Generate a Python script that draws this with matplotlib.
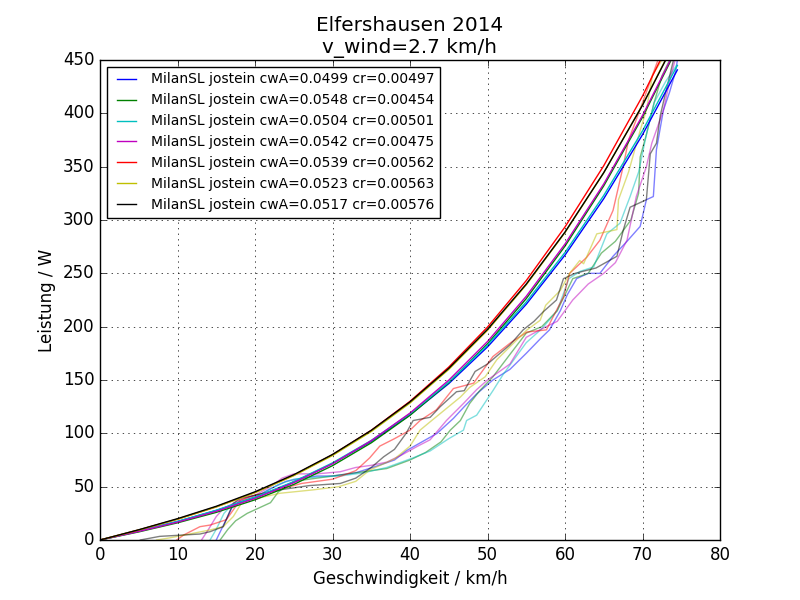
import matplotlib
matplotlib.use('Agg')
import matplotlib.pyplot as plt

plt.style.use('classic')

# fitted power curves, speed in km/h
v_fit = [0, 5, 10, 15, 20, 25, 30, 35, 40, 45, 50, 55, 60, 65, 70, 74.5]
p_fit_b = [0, 8.3, 17.3, 27.7, 39.8, 54.3, 71.7, 92.5, 117.3, 146.6, 181.0, 221.0, 267.1, 320.0, 380.0, 440.7]
p_fit_g = [0, 7.6, 16.1, 25.9, 37.7, 52.1, 69.7, 91.1, 116.9, 147.6, 183.9, 226.3, 275.5, 332.0, 396.4, 461.7]
p_fit_c = [0, 8.4, 17.5, 27.9, 40.1, 54.7, 72.3, 93.3, 118.4, 148.0, 182.7, 223.1, 269.6, 323.0, 383.6, 444.9]
p_fit_m = [0, 8.0, 16.7, 26.9, 39.0, 53.7, 71.5, 93.1, 119.0, 149.8, 186.1, 228.5, 277.5, 333.8, 398.0, 462.9]
p_fit_r = [0, 9.4, 19.5, 31.1, 44.6, 60.7, 79.9, 102.8, 130.0, 162.1, 199.6, 243.2, 293.5, 350.9, 416.2, 482.1]
p_fit_y = [0, 9.4, 19.5, 31.0, 44.4, 60.3, 79.2, 101.7, 128.4, 159.9, 196.6, 239.2, 288.2, 344.3, 407.9, 472.1]
p_fit_k = [0, 9.6, 20.0, 31.6, 45.2, 61.2, 80.2, 102.8, 129.5, 160.9, 197.5, 239.9, 288.7, 344.4, 407.6, 471.4]

labels = ['MilanSL jostein cwA=0.0499 cr=0.00497',
          'MilanSL jostein cwA=0.0548 cr=0.00454',
          'MilanSL jostein cwA=0.0504 cr=0.00501',
          'MilanSL jostein cwA=0.0542 cr=0.00475',
          'MilanSL jostein cwA=0.0539 cr=0.00562',
          'MilanSL jostein cwA=0.0523 cr=0.00563',
          'MilanSL jostein cwA=0.0517 cr=0.00576']

# measured rides
v_meas_b = [15, 16, 17, 18, 20, 22, 24, 26, 28, 30, 33, 36, 38, 39.6, 41.3, 43.5, 45.6, 47, 48.6, 50.7, 52.9,
            55, 57, 58, 59.4, 60.3, 61.5, 63, 64.5, 66.2, 68, 69.7, 70.5, 71.4, 71.8, 72.7, 73.5, 74.3, 74.5]
p_meas_b = [0, 15, 30, 36, 40, 48, 55, 58, 60, 60, 63, 70, 75, 84, 91, 100, 114, 125, 137, 150, 160,
            175, 190, 197, 215, 230, 245, 250, 250, 266, 280, 294, 319, 322, 366, 403, 420, 440, 450]
v_meas_g = [15.5, 16.5, 17.5, 19, 20.5, 22, 23, 25, 28, 31, 34, 37, 40, 42, 44, 45.2, 46.5, 47.7, 49, 50.7,
            53, 55, 57, 59, 61, 63, 64.7, 66.5, 68.5, 69.5, 69.7, 70.5, 71.5, 72.5, 73.5]
p_meas_g = [0, 10, 18, 25, 30, 35, 45, 55, 58, 61, 64, 67, 75, 82, 92, 103, 112, 128, 140, 153,
            175, 194, 200, 215, 245, 250, 269, 280, 300, 325, 359, 380, 410, 435, 450]
v_meas_c = [14.2, 15, 16, 17, 19, 21, 23, 25, 28, 31, 34, 37, 40.4, 42.6, 45, 46.9, 47.3, 48.6, 50.7, 52,
            53.5, 55, 57, 59, 60.5, 62, 63.7, 65.4, 67.1, 68.4, 69.5, 70.5, 71.5, 73, 74.4]
p_meas_c = [0, 10, 25, 33, 38, 44, 52, 57, 59, 60, 63, 68, 77, 83.5, 95, 103, 112, 117, 140, 155,
            170, 185, 198, 215, 245, 252, 256, 287, 297, 322, 345, 380, 410, 430, 445]
v_meas_m = [13.1, 14, 15, 16, 18, 20, 22, 23.5, 25, 28, 31, 33, 35, 37, 39, 41, 42.6, 44.7, 46.9, 48.6,
            50, 52.9, 55, 57, 59, 61, 63, 65, 66.5, 68, 69.2, 70.5, 71.2, 72.7, 73.5, 74.2]
p_meas_m = [0, 10, 22, 30, 37, 42, 50, 58, 62, 62, 64, 68, 70, 73, 80, 88, 94, 112, 128, 141,
            150, 165, 190, 198, 205, 225, 240, 250, 260, 281, 322, 350, 372, 403, 430, 450]
v_meas_r = [9.9, 10.8, 12.9, 14.2, 16.3, 18.1, 20, 23, 26, 30, 33, 34.8, 36.1, 38, 40, 41.3, 43.4, 45.6,
            48.2, 50.7, 53, 55.1, 57.6, 59.8, 60.6, 62.8, 64.5, 66.2, 67.5, 68.2, 69.5, 71, 72]
p_meas_r = [0, 4.7, 12.5, 14, 19, 37.5, 42, 47, 53, 57, 65, 77, 88, 95, 103, 112, 122, 142,
            147, 172, 185, 195, 197, 228, 250, 265, 281, 309, 350, 375, 400, 430, 450]
v_meas_y = [7.3, 9, 14.2, 15.9, 17.2, 18.5, 20.3, 23.2, 27.5, 30.8, 33, 34.8, 38, 40, 41.3, 42.8, 46.5,
            47.7, 49.7, 51.2, 55.1, 56.8, 57.5, 59.4, 60.6, 61.9, 62.4, 64.1, 66.7, 66.9, 68.2, 69.7,
            70.5, 71.3, 72.5]
p_meas_y = [0, 2, 9.4, 12.5, 22, 37.5, 39, 43.8, 47, 50, 55, 65.6, 76, 88, 103, 112, 134,
            143, 153, 169, 197, 206, 220, 234, 250, 262, 259, 287, 291, 319, 345, 384,
            403, 436, 450]
v_meas_k = [5.2, 7.7, 12.9, 14.2, 15.9, 17.2, 18.1, 20, 23.2, 27, 31, 33, 35, 36.6, 38, 39.5, 40.4, 42.6,
            43.9, 46, 47, 48.4, 50, 52.9, 54.6, 56, 57.2, 58.9, 59.8, 61.3, 64, 66.7, 67.5, 68.4, 70.5,
            71, 71.8, 72.3, 73, 74]
p_meas_k = [0, 3.4, 5.6, 7.8, 12.5, 34.4, 39, 42, 47, 51, 53, 58, 68, 78, 85, 100, 112, 115,
            125, 139, 140, 158, 165, 183, 197, 205, 214, 225, 245, 250, 255, 266, 290, 312, 319,
            362, 372, 398, 420, 450]

colors = ['b', 'g', 'c', 'm', 'r', 'y', 'k']
fits = [p_fit_b, p_fit_g, p_fit_c, p_fit_m, p_fit_r, p_fit_y, p_fit_k]
meas = [(v_meas_b, p_meas_b), (v_meas_g, p_meas_g), (v_meas_c, p_meas_c), (v_meas_m, p_meas_m),
        (v_meas_r, p_meas_r), (v_meas_y, p_meas_y), (v_meas_k, p_meas_k)]

fig, ax = plt.subplots(figsize=(8, 6), dpi=100)

for col, (vm, pm) in zip(colors, meas):
    ax.plot(vm, pm, color=col, alpha=0.5, lw=1)

for col, pf, lab in zip(colors, fits, labels):
    ax.plot(v_fit, pf, color=col, lw=1, label=lab)

ax.set_xlim(0, 80)
ax.set_ylim(0, 450)
ax.set_xticks(range(0, 81, 10))
ax.set_yticks(range(0, 451, 50))
ax.grid(True)
ax.set_xlabel('Geschwindigkeit / km/h')
ax.set_ylabel('Leistung / W')
ax.set_title('Elfershausen 2014\nv_wind=2.7 km/h')
ax.legend(loc='upper left', prop={'size': 10})

fig.savefig('out.png', dpi=100, facecolor='white')
